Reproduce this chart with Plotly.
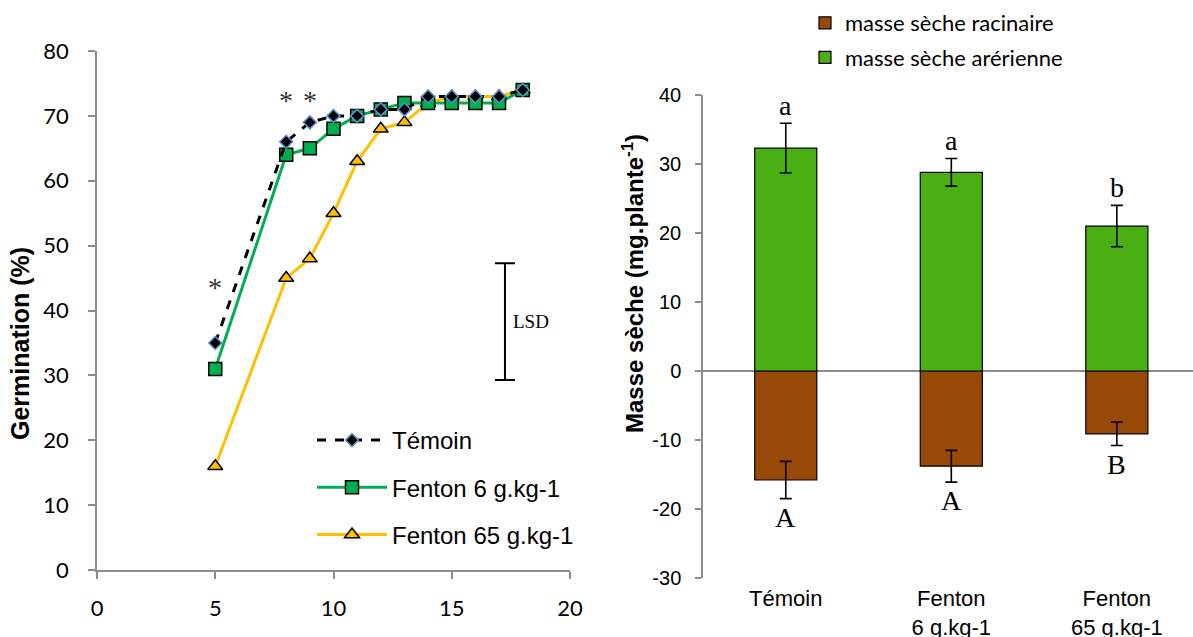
import plotly.graph_objects as go

# ---------------- data ----------------
days = [5, 8, 9, 10, 11, 12, 13, 14, 15, 16, 17, 18]
temoin = [35, 66, 69, 70, 70, 71, 71, 73, 73, 73, 73, 74]
fenton6 = [31, 64, 65, 68, 70, 71, 72, 72, 72, 72, 72, 74]
fenton65 = [16, 45, 48, 55, 63, 68, 69, 72, 73, 73, 73, 74]
series_names = ["Témoin", "Fenton 6 g.kg-1", "Fenton 65 g.kg-1"]

star_days = [5, 8, 9]
star_levels = [43.5, 72.3, 72.3]

lsd_day = [17.25]
lsd_mid = [38.3]
lsd_half = [9.0]

categories = ["Témoin", "Fenton<br>6 g.kg-1", "Fenton<br>65 g.kg-1"]
aerial = [32.3, 28.8, 21.0]
aerial_err = [3.6, 2.0, 3.0]
root = [-15.8, -13.8, -9.1]
root_err = [2.7, 2.3, 1.7]
aerial_letters = ["a", "a", "b"]
root_letters = ["A", "A", "B"]
bar_names = ["masse sèche racinaire", "masse sèche arérienne"]
mass_ticks = [-30, -20, -10, 0, 10, 20, 30, 40]

CAL = "Lato, 'Noto Sans', sans-serif"
ARIAL = "'Liberation Sans', Arial, sans-serif"
TIMES = "'Liberation Serif', 'Times New Roman', serif"
AXGRAY = "#8c8c8c"
W, H = 1193, 637

fig = go.Figure()

# ---------------- left chart ----------------
fig.add_trace(go.Scatter(
    x=days, y=fenton65, name=series_names[2], mode="lines+markers",
    line=dict(color="#ffc000", width=3),
    marker=dict(symbol="triangle-up", size=13, color="#ffc000",
                line=dict(color="black", width=1.5)),
    xaxis="x", yaxis="y", legend="legend", legendgroup="g3", legendrank=3))
fig.add_trace(go.Scatter(
    x=days, y=fenton6, name=series_names[1], mode="lines+markers",
    line=dict(color="#00b050", width=3),
    marker=dict(symbol="square", size=13, color="#00b050",
                line=dict(color="black", width=1.5)),
    xaxis="x", yaxis="y", legend="legend", legendgroup="g2", legendrank=2))
fig.add_trace(go.Scatter(
    x=days, y=temoin, name=series_names[0], mode="lines+markers",
    line=dict(color="black", width=3, dash="dash"),
    marker=dict(symbol="diamond", size=10, color="black",
                line=dict(color="#5b8fd0", width=1.5)),
    xaxis="x", yaxis="y", legend="legend", legendgroup="g1", legendrank=1))

# LSD bar
fig.add_trace(go.Scatter(
    x=lsd_day, y=lsd_mid, mode="markers", showlegend=False,
    marker=dict(size=1, color="rgba(0,0,0,0)"),
    error_y=dict(type="data", array=lsd_half, color="black", thickness=2, width=10),
    xaxis="x", yaxis="y", hoverinfo="skip"))

# ---------------- right chart ----------------
xpos = list(range(len(categories)))
fig.add_trace(go.Bar(
    x=xpos, y=root, name=bar_names[0], width=0.375,
    marker=dict(color="#984807", line=dict(color="black", width=1.2)),
    error_y=dict(type="data", array=root_err, color="black", thickness=1.6, width=6),
    xaxis="x2", yaxis="y2", legend="legend2", legendgroup="b1"))
fig.add_trace(go.Bar(
    x=xpos, y=aerial, name=bar_names[1], width=0.375,
    marker=dict(color="#4aaf12", line=dict(color="black", width=1.2)),
    error_y=dict(type="data", array=aerial_err, color="black", thickness=1.6, width=6),
    xaxis="x2", yaxis="y2", legend="legend2", legendgroup="b2"))

annotations = []
for xd, yl in zip(star_days, star_levels):
    annotations.append(dict(x=xd, y=yl, xref="x", yref="y", text="*", showarrow=False,
                            font=dict(family=TIMES, size=28, color="#333")))
annotations.append(dict(x=lsd_day[0], y=lsd_mid[0], xref="x", yref="y", text="LSD",
                        showarrow=False, xanchor="left", xshift=6,
                        font=dict(family=TIMES, size=19, color="black")))
for i in xpos:
    annotations.append(dict(x=i, y=aerial[i] + aerial_err[i], xref="x2", yref="y2",
                            text=aerial_letters[i], showarrow=False, yanchor="bottom",
                            yshift=0, font=dict(family=TIMES, size=28, color="black")))
    annotations.append(dict(x=i, y=root[i] - root_err[i], xref="x2", yref="y2",
                            text=root_letters[i], showarrow=False, yanchor="top",
                            yshift=-1, font=dict(family=TIMES, size=28, color="black")))
# axis titles (placed like the original, not centred on the axes)
annotations.append(dict(x=20 / W, y=1 - 344 / H, xref="paper", yref="paper",
                        text="<b>Germination (%)</b>", textangle=-90, showarrow=False,
                        xanchor="center", yanchor="middle",
                        font=dict(family=ARIAL, size=25, color="black")))
annotations.append(dict(x=633 / W, y=1 - 284 / H, xref="paper", yref="paper",
                        text="<b>Masse sèche (mg.plante<sup>-1</sup>)</b>", textangle=-90,
                        showarrow=False, xanchor="center", yanchor="middle",
                        font=dict(family=ARIAL, size=24, color="black")))

common = dict(showgrid=False, automargin=False)

fig.update_layout(
    width=W, height=H,
    margin=dict(l=0, r=0, t=0, b=0, autoexpand=False),
    paper_bgcolor="white", plot_bgcolor="white",
    barmode="relative",
    showlegend=True,
    annotations=annotations,
    xaxis=dict(domain=[97 / W, 570 / W], range=[0, 20], tickvals=[0, 5, 10, 15, 20],
               zeroline=False, showline=True, linecolor=AXGRAY, linewidth=1.5,
               ticks="outside", ticklen=7, tickcolor=AXGRAY, tickwidth=1.5,
               ticklabelstandoff=11,
               tickfont=dict(family=CAL, size=22, color="black"), anchor="y", **common),
    yaxis=dict(domain=[1 - 570 / H, 1 - 51 / H], range=[0, 80], dtick=10,
               zeroline=False, showline=True, linecolor=AXGRAY, linewidth=1.5,
               ticks="outside", ticklen=7, tickcolor=AXGRAY, tickwidth=1.5,
               ticklabelstandoff=15,
               tickfont=dict(family=CAL, size=22, color="black"), anchor="x", **common),
    xaxis2=dict(domain=[703 / W, 1.0], range=[-0.5, 2.46], tickvals=xpos,
                ticktext=categories, zeroline=False, showline=False,
                ticks="", ticklabelstandoff=5,
                tickfont=dict(family=ARIAL, size=22, color="black"), anchor="y2", **common),
    yaxis2=dict(domain=[1 - 578 / H, 1 - 95 / H], range=[-30, 40],
                tickvals=mass_ticks, ticktext=[str(v) for v in mass_ticks],
                zeroline=True, zerolinecolor=AXGRAY, zerolinewidth=1.5,
                showline=True, linecolor=AXGRAY, linewidth=1.5,
                ticks="outside", ticklen=6, tickcolor=AXGRAY, tickwidth=1.5,
                ticklabelstandoff=10,
                tickfont=dict(family=ARIAL, size=20, color="black"), anchor="x2", **common),
    legend=dict(x=312 / W, y=1 - 418 / H, xanchor="left", yanchor="top",
                bgcolor="rgba(0,0,0,0)", font=dict(family=ARIAL, size=24, color="black"),
                tracegroupgap=13, traceorder="grouped", itemwidth=70),
    legend2=dict(x=805 / W, y=1 - 2 / H, xanchor="left", yanchor="top",
                 bgcolor="rgba(0,0,0,0)", font=dict(family=CAL, size=22, color="black"),
                 traceorder="grouped", tracegroupgap=3, itemwidth=30),
)

fig.write_html("out.html")
